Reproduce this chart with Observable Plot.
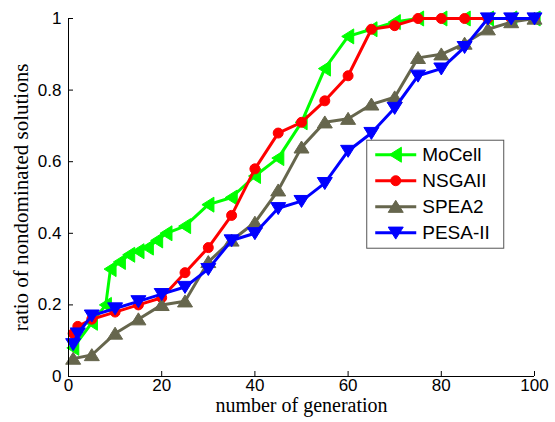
<!DOCTYPE html>
<html>
<head>
<meta charset="utf-8">
<script src="https://cdn.jsdelivr.net/npm/d3@7"></script>
<script src="https://cdn.jsdelivr.net/npm/@observablehq/plot@0.6"></script>
<style>
  html, body { margin: 0; padding: 0; background: #fff; }
  #chart { position: relative; width: 555px; height: 422px; }
</style>
</head>
<body>
<div id="chart"></div>
<script>
// ---- data ----
const seriesNames = ["MoCell", "NSGAII", "SPEA2", "PESA-II"];
const seriesColors = ["#00ff00", "#ff0000", "#66664d", "#0000ff"];

const mocellGen = [1, 5, 8, 9, 11, 13, 15, 17, 19, 21, 25, 30, 35, 40, 45, 50, 55, 60, 65, 70, 75, 80, 85, 90, 95, 100];
const mocellVal = [0.08, 0.15, 0.20, 0.30, 0.32, 0.34, 0.35, 0.36, 0.38, 0.40, 0.42, 0.48, 0.50, 0.56, 0.61, 0.71, 0.86, 0.95, 0.97, 0.99, 1, 1, 1, 1, 1, 1];

const nsgaGen = [1, 2, 5, 10, 15, 20, 25, 30, 35, 40, 45, 50, 55, 60, 65, 70, 75, 80, 85, 90, 95, 100];
const nsgaVal = [0.12, 0.14, 0.16, 0.18, 0.20, 0.22, 0.29, 0.36, 0.45, 0.58, 0.68, 0.71, 0.77, 0.84, 0.97, 0.98, 1, 1, 1, 1, 1, 1];

const speaGen = [1, 5, 10, 15, 20, 25, 30, 35, 40, 45, 50, 55, 60, 65, 70, 75, 80, 85, 90, 95, 100];
const speaVal = [0.05, 0.06, 0.12, 0.16, 0.20, 0.21, 0.32, 0.38, 0.43, 0.52, 0.64, 0.71, 0.72, 0.76, 0.78, 0.89, 0.90, 0.93, 0.97, 0.99, 1.0];

const pesaGen = [1, 2, 5, 10, 15, 20, 25, 30, 35, 40, 45, 50, 55, 60, 65, 70, 75, 80, 85, 90, 95, 100];
const pesaVal = [0.09, 0.12, 0.17, 0.19, 0.21, 0.23, 0.25, 0.30, 0.38, 0.40, 0.47, 0.49, 0.54, 0.63, 0.68, 0.75, 0.84, 0.86, 0.92, 1.0, 1.0, 1.0];

const xTicks = [0, 20, 40, 60, 80, 100];
const yTicks = [0, 0.2, 0.4, 0.6, 0.8, 1];
const xLabel = "number of generation";
const yLabel = "ratio of nondominated solutions";

// ---- marker symbols (MATLAB-like) ----
const triLeft = {draw(ctx, size) { const r = Math.sqrt(size / Math.PI); ctx.moveTo(-0.85 * r, 0); ctx.lineTo(0.75 * r, -r); ctx.lineTo(0.75 * r, r); ctx.closePath(); }};
const triUp = {draw(ctx, size) { const r = Math.sqrt(size / Math.PI); ctx.moveTo(0, -0.85 * r); ctx.lineTo(r, 0.75 * r); ctx.lineTo(-r, 0.75 * r); ctx.closePath(); }};
const triDown = {draw(ctx, size) { const r = Math.sqrt(size / Math.PI); ctx.moveTo(0, 0.85 * r); ctx.lineTo(r, -0.75 * r); ctx.lineTo(-r, -0.75 * r); ctx.closePath(); }};
const circ = {draw(ctx, size) { const r = Math.sqrt(size / Math.PI); ctx.moveTo(r, 0); ctx.arc(0, 0, r, 0, 2 * Math.PI); }};
const symbols = [triLeft, circ, triUp, triDown];
const radii = [7.5, 5, 7.5, 7.5];

const table = (gens, vals) => gens.map((g, i) => ({g, v: vals[i]}));
const series = [
  table(mocellGen, mocellVal),
  table(nsgaGen, nsgaVal),
  table(speaGen, speaVal),
  table(pesaGen, pesaVal)
];

const seriesMarks = series.flatMap((data, i) => [
  Plot.line(data, {x: "g", y: "v", stroke: seriesColors[i], strokeWidth: 3, strokeLinejoin: "round"}),
  Plot.dot(data, {x: "g", y: "v", symbol: symbols[i], r: radii[i], fill: seriesColors[i], stroke: seriesColors[i], strokeWidth: 1})
]);

const serif = "'Liberation Serif', 'Times New Roman', serif";
const sans = "'Liberation Sans', Arial, sans-serif";

const plot = Plot.plot({
  width: 555,
  height: 422,
  marginLeft: 68,
  marginRight: 21,
  marginTop: 18,
  marginBottom: 46,
  style: {fontFamily: sans, fontSize: "17px", color: "#000", background: "#fff"},
  x: {domain: [0, 100], label: null},
  y: {domain: [0, 1], label: null},
  marks: [
    ...seriesMarks,
    Plot.ruleY([0], {stroke: "#000", strokeWidth: 1}),
    Plot.ruleX([0], {stroke: "#000", strokeWidth: 1}),
    Plot.axisX(xTicks, {tickSize: -5, text: null, label: null, stroke: "#000"}),
    Plot.axisX(xTicks, {tickSize: 0, tickPadding: 2, label: null, fill: "#000", fontSize: 17}),
    Plot.axisY(yTicks, {tickSize: -5, text: null, label: null, stroke: "#000"}),
    Plot.axisY(yTicks, {tickSize: 0, tickPadding: 7, label: null, fill: "#000", fontSize: 17,
      tickFormat: d => (d === 0 || d === 1) ? String(d) : d.toFixed(1)}),
    Plot.text([xLabel], {frameAnchor: "bottom", dy: 35, textAnchor: "middle", text: d => d, fontFamily: serif, fontSize: 20, fill: "#000"}),
    Plot.text([yLabel], {frameAnchor: "left", dx: -47, textAnchor: "middle", rotate: -90, text: d => d, fontFamily: serif, fontSize: 21, fill: "#000"})
  ]
});

document.getElementById("chart").appendChild(plot);

// ---- legend (inside plot, right of centre) ----
const sx = plot.scale("x"), sy = plot.scale("y");
const svg = d3.select(plot);
const lx = sx.apply(64), ly = sy.apply(0.66); // top-left of legend box
const lw = 137, lh = 108;
const g = svg.append("g").attr("class", "legend");
g.append("rect").attr("x", lx + 0.5).attr("y", ly + 0.5).attr("width", lw).attr("height", lh)
  .attr("fill", "#fff").attr("stroke", "#555").attr("stroke-width", 1);
seriesNames.forEach((name, i) => {
  const cy = ly + 15 + i * 26;
  const x0 = lx + 9, x1 = lx + 50;
  g.append("line").attr("x1", x0).attr("x2", x1).attr("y1", cy).attr("y2", cy)
    .attr("stroke", seriesColors[i]).attr("stroke-width", 3);
  g.append("path").attr("d", d3.symbol(symbols[i], Math.PI * radii[i] * radii[i])())
    .attr("transform", `translate(${(x0 + x1) / 2},${cy})`)
    .attr("fill", seriesColors[i]).attr("stroke", seriesColors[i]);
  g.append("text").attr("x", lx + 56).attr("y", cy).attr("dy", "0.35em")
    .attr("text-anchor", "start")
    .attr("font-family", sans).attr("font-size", 19)
    .attr("fill", "#000").text(name);
});
</script>
</body>
</html>
